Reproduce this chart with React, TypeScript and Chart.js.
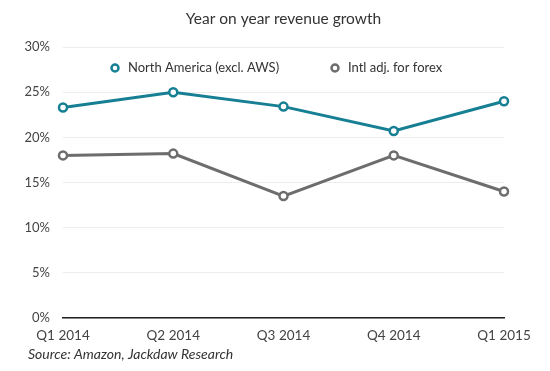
import React, { useEffect, useRef } from "react";
import { Chart, registerables } from "chart.js";

Chart.register(...registerables);

const categories = ["Q1 2014", "Q2 2014", "Q3 2014", "Q4 2014", "Q1 2015"];
const northAmerica = [23.3, 25.0, 23.4, 20.7, 24.0];
const intlForex = [18.0, 18.2, 13.5, 18.0, 14.0];
const yTicks = [0, 5, 10, 15, 20, 25, 30];

const TITLE = "Year on year revenue growth";
const SOURCE = "Source: Amazon, Jackdaw Research";
const FONT = "Lato, 'Open Sans', sans-serif";
const TEAL = "#177f93";
const GREY = "#6d6d6d";

const overlayPlugin = {
  id: "overlay",
  afterDraw(chart: any) {
    const ctx = chart.ctx;
    const area = chart.chartArea;
    ctx.save();
    // title
    ctx.fillStyle = "#333";
    ctx.font = `15.5px ${FONT}`;
    ctx.textAlign = "center";
    ctx.textBaseline = "middle";
    ctx.fillText(TITLE, (area.left + area.right) / 2, 19);
    // legend
    ctx.font = `13px ${FONT}`;
    ctx.textAlign = "left";
    const starts = [115, 335];
    chart.data.datasets.forEach((ds: any, i: number) => {
      const x = starts[i];
      const y = 68;
      ctx.beginPath();
      ctx.arc(x, y, 3.5, 0, Math.PI * 2);
      ctx.fillStyle = "#fff";
      ctx.fill();
      ctx.lineWidth = 2.5;
      ctx.strokeStyle = ds.borderColor;
      ctx.stroke();
      ctx.fillStyle = "#333";
      ctx.fillText(ds.label, x + 13, y);
    });
    // source
    ctx.font = `italic 14px ${FONT}`;
    ctx.fillStyle = "#333";
    ctx.fillText(SOURCE, 28, 354);
    ctx.restore();
  },
};

export default function App() {
  const ref = useRef<HTMLCanvasElement>(null);
  useEffect(() => {
    document.body.style.margin = "0";
    const chart = new Chart(ref.current!, {
      type: "line",
      data: {
        labels: categories,
        datasets: [
          {
            label: "North America (excl. AWS)",
            data: northAmerica,
            borderColor: TEAL,
            backgroundColor: "#fff",
            pointBackgroundColor: "#fff",
            pointBorderColor: TEAL,
            borderWidth: 3,
            pointRadius: 4,
            pointBorderWidth: 2.5,
            tension: 0,
            clip: false as any,
          },
          {
            label: "Intl adj. for forex",
            data: intlForex,
            borderColor: GREY,
            backgroundColor: "#fff",
            pointBackgroundColor: "#fff",
            pointBorderColor: GREY,
            borderWidth: 3,
            pointRadius: 4,
            pointBorderWidth: 2.5,
            tension: 0,
            clip: false as any,
          },
        ],
      },
      options: {
        animation: false,
        responsive: false,
        layout: { padding: { left: 8, right: 46, top: 47, bottom: 23 } },
        plugins: {
          legend: { display: false },
          title: { display: false },
          tooltip: { enabled: false },
        },
        scales: {
          x: {
            grid: { display: false, drawTicks: false },
            border: { display: true, color: "#222", width: 1.5 },
            ticks: {
              color: "#444",
              font: { family: FONT, size: 13.5 },
              padding: 10,
              maxRotation: 0,
              autoSkip: false,
            },
            afterFit(scale: any) {
              scale.height = 30;
            },
          },
          y: {
            min: 0,
            max: 30,
            afterBuildTicks(scale: any) {
              scale.ticks = yTicks.map((v) => ({ value: v }));
            },
            grid: { color: "#ececec", drawTicks: false, lineWidth: 1 },
            border: { display: false },
            ticks: {
              color: "#444",
              font: { family: FONT, size: 13 },
              padding: 13,
              callback: (v: any) => `${v}%`,
            },
            afterFit(scale: any) {
              scale.width = 55;
            },
          },
        },
      },
      plugins: [overlayPlugin],
    });
    return () => chart.destroy();
  }, []);
  return (
    <div style={{ position: "absolute", left: 0, top: 0, width: 550, height: 371 }}>
      <canvas ref={ref} width={550} height={371} style={{ width: 550, height: 371 }} />
    </div>
  );
}
